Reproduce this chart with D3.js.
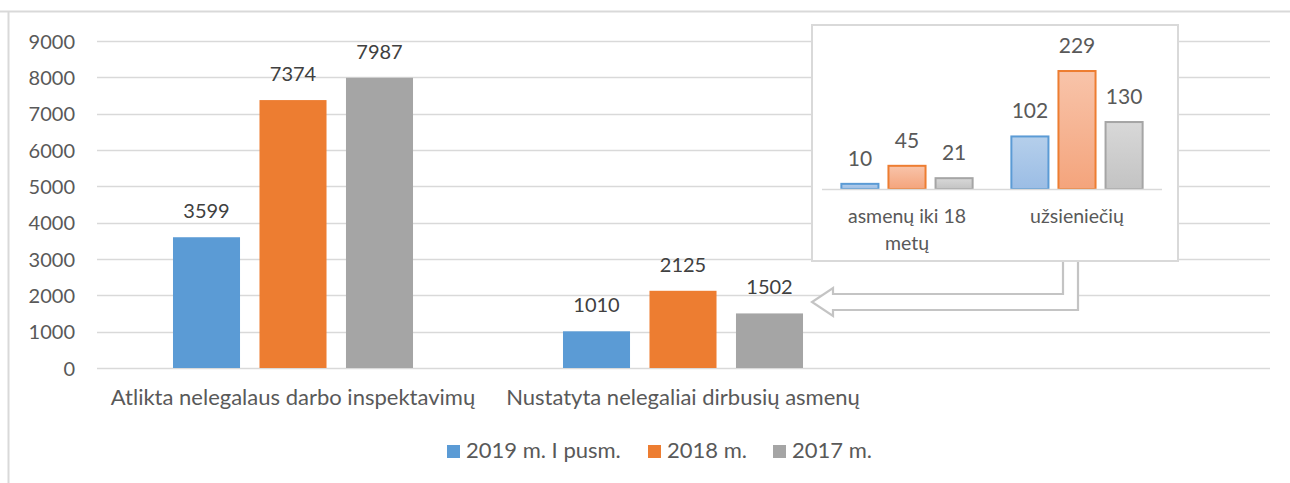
<!DOCTYPE html>
<html>
<head>
<meta charset="utf-8">
<script src="https://cdn.jsdelivr.net/npm/d3@7"></script>
<style>
  body { margin: 0; background: #fff; }
  svg { font-family: Lato, "Open Sans", sans-serif; }
</style>
</head>
<body>
<div id="chart"></div>
<script>
// data
const categories = ["Atlikta nelegalaus darbo inspektavimų", "Nustatyta nelegaliai dirbusių asmenų", ""];
const series = ["2019 m. I pusm.", "2018 m.", "2017 m."];
const mainValues = [
  [3599, 7374, 7987],
  [1010, 2125, 1502]
];
const yTicks = [0, 1000, 2000, 3000, 4000, 5000, 6000, 7000, 8000, 9000];

const insetCategories = [["asmenų iki 18", "metų"], ["užsieniečių"]];
const insetValues = [
  [10, 45, 21],
  [102, 229, 130]
];

const colors = ["#5b9bd5", "#ed7d31", "#a5a5a5"];
const gradStops = [["#b5cfeb", "#9bbde5"], ["#f8c4aa", "#f4a47c"], ["#d8d8d8", "#c3c3c3"]];

(() => {
  const width = 1290, height = 483;
  const svg = d3.select("#chart").append("svg")
    .attr("width", width).attr("height", height);

  // chart frame (only top and left edges visible)
  svg.append("line").attr("x1", 0).attr("x2", width).attr("y1", 11.5).attr("y2", 11.5)
    .attr("stroke", "#d9d9d9").attr("stroke-width", 2);
  svg.append("line").attr("x1", 8.5).attr("x2", 8.5).attr("y1", 11).attr("y2", height)
    .attr("stroke", "#d9d9d9").attr("stroke-width", 2);

  // main scales
  const x0 = d3.scaleBand().domain(d3.range(categories.length)).range([98, 1268]);
  const x1 = d3.scaleBand().domain(d3.range(series.length)).range([0, x0.bandwidth()])
    .paddingInner(0.225).paddingOuter(0.867);
  const y = d3.scaleLinear().domain([0, 9000]).range([368, 41]);

  // grid
  svg.append("g").selectAll("line").data(yTicks).enter().append("line")
    .attr("x1", 97).attr("x2", 1270)
    .attr("y1", d => Math.round(y(d)) + 0.5).attr("y2", d => Math.round(y(d)) + 0.5)
    .attr("stroke", "#d9d9d9").attr("stroke-width", 1.3);

  // y axis
  const yAxis = d3.axisLeft(y).tickValues(yTicks).tickSize(0).tickPadding(0)
    .tickFormat(d3.format("d"));
  const ya = svg.append("g").attr("transform", "translate(75,0)").call(yAxis);
  ya.select(".domain").remove();
  ya.selectAll("text").attr("font-size", 20).attr("fill", "#595959")
    .attr("font-family", "Lato, sans-serif").attr("dy", "0.36em");

  // bars
  const groups = svg.append("g").selectAll("g").data(mainValues).enter().append("g")
    .attr("transform", (d, i) => `translate(${x0(i)},0)`);
  groups.selectAll("rect").data(d => d).enter().append("rect")
    .attr("x", (d, i) => x1(i)).attr("width", x1.bandwidth())
    .attr("y", d => y(d)).attr("height", d => y(0) - y(d))
    .attr("fill", (d, i) => colors[i]);
  groups.selectAll("text").data(d => d).enter().append("text")
    .attr("x", (d, i) => x1(i) + x1.bandwidth() / 2)
    .attr("y", d => y(d) - 19)
    .attr("text-anchor", "middle").attr("font-size", 20).attr("fill", "#404040")
    .text(d => d);

  // category labels
  svg.append("g").selectAll("text").data(categories).enter().append("text")
    .attr("x", (d, i) => x0(i) + x0.bandwidth() / 2).attr("y", 405)
    .attr("text-anchor", "middle").attr("font-size", 22).attr("fill", "#595959")
    .text(d => d);

  // legend
  const legendX = [447, 648, 773];
  const lg = svg.append("g").selectAll("g").data(series).enter().append("g")
    .attr("transform", (d, i) => `translate(${legendX[i]},445)`);
  lg.append("rect").attr("width", 13).attr("height", 13).attr("fill", (d, i) => colors[i]);
  lg.append("text").attr("x", 19).attr("y", 13).attr("font-size", 22).attr("fill", "#595959")
    .text(d => d);

  // arrow from inset to second category
  const arrow = [[1063, 262], [1063, 294], [833, 294], [833, 288], [812, 302], [833, 316],
    [833, 310], [1078, 310], [1078, 262]];
  svg.append("path").attr("d", d3.line()(arrow))
    .attr("fill", "#fff").attr("stroke", "#c4c4c4").attr("stroke-width", 2.2)
    .attr("stroke-linejoin", "miter");

  // inset box
  svg.append("rect").attr("x", 812).attr("y", 25).attr("width", 366).attr("height", 236)
    .attr("fill", "#fff").attr("stroke", "#d9d9d9").attr("stroke-width", 2);

  const defs = svg.append("defs");
  gradStops.forEach((s, i) => {
    const g = defs.append("linearGradient").attr("id", "grad" + i)
      .attr("x1", 0).attr("y1", 0).attr("x2", 0).attr("y2", 1);
    g.append("stop").attr("offset", "0%").attr("stop-color", s[0]);
    g.append("stop").attr("offset", "100%").attr("stop-color", s[1]);
  });

  const ix0 = d3.scaleBand().domain(d3.range(insetCategories.length)).range([822, 1162]);
  const ix1 = d3.scaleBand().domain(d3.range(series.length)).range([0, ix0.bandwidth()])
    .paddingInner(0.17).paddingOuter(0.39);
  const iy = d3.scaleLinear().domain([0, 250]).range([189, 60.2]);

  const ig = svg.append("g").selectAll("g").data(insetValues).enter().append("g")
    .attr("transform", (d, i) => `translate(${ix0(i)},0)`);
  ig.selectAll("rect").data(d => d).enter().append("rect")
    .attr("x", (d, i) => ix1(i) + 1).attr("width", ix1.bandwidth() - 2)
    .attr("y", d => iy(d)).attr("height", d => iy(0) - iy(d))
    .attr("fill", (d, i) => `url(#grad${i})`)
    .attr("stroke", (d, i) => colors[i]).attr("stroke-width", 2);
  ig.selectAll("text").data(d => d).enter().append("text")
    .attr("x", (d, i) => ix1(i) + ix1.bandwidth() / 2)
    .attr("y", d => iy(d) - 18)
    .attr("text-anchor", "middle").attr("font-size", 21).attr("fill", "#595959")
    .text(d => d);

  svg.append("line").attr("x1", 822).attr("x2", 1162).attr("y1", 189.5).attr("y2", 189.5)
    .attr("stroke", "#d9d9d9").attr("stroke-width", 1.5);

  const icat = svg.append("g").selectAll("text").data(insetCategories).enter().append("text")
    .attr("text-anchor", "middle").attr("font-size", 19.5).attr("fill", "#595959");
  icat.selectAll("tspan").data((d, i) => d.map(t => ({ t, i }))).enter().append("tspan")
    .attr("x", d => ix0(d.i) + ix0.bandwidth() / 2)
    .attr("y", (d, j) => 223 + j * 27)
    .text(d => d.t);
})();
</script>
</body>
</html>
